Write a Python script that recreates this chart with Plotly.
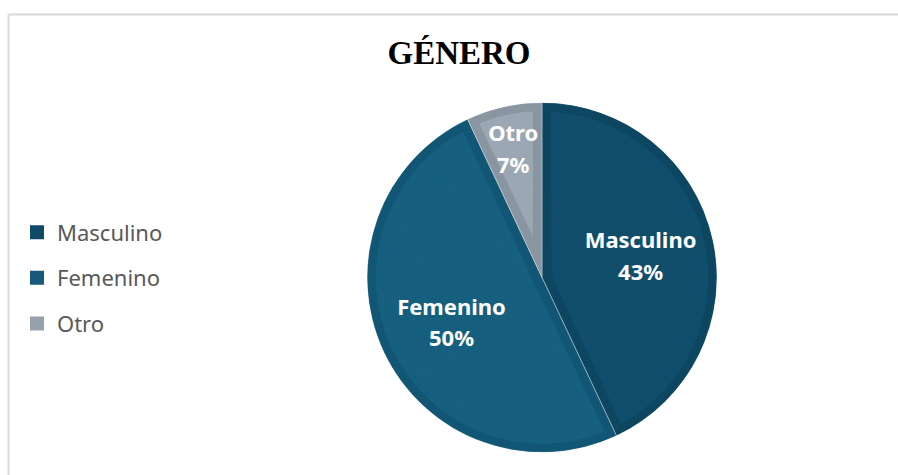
import math
import plotly.graph_objects as go

# ---- data ----
categories = ["Masculino", "Femenino", "Otro"]
values = [43, 50, 7]
percent_labels = ["43%", "50%", "7%"]
title_text = "GÉNERO"

# ---- style ----
fill_colors = ["#104e6b", "#165f7f", "#9ba7b3"]
band_colors = ["#0c4661", "#115674", "#8995a1"]
legend_colors = ["#0f4a66", "#16597a", "#96a1ad"]
label_r_px = [101, 100, 132]
label_dy_px = [3, 5, 3]

W, H = 898, 475
cx, cy, R = 542, 277.5, 175
band_px = 9

dom_x = [(cx - R) / W, (cx + R) / W]
dom_y = [(H - cy - R) / H, (H - cy + R) / H]

total = sum(values)
spans = [v / total * 360 for v in values]
starts = []
acc = 0
for s in spans:
    starts.append(acc)
    acc += s
mids = [st + sp / 2 for st, sp in zip(starts, spans)]

# label anchor positions (slice mid-angle, nudged in pixels)
lab_r, lab_t = [], []
for m, rp, dy in zip(mids, label_r_px, label_dy_px):
    a = math.radians(m)
    x = rp * math.sin(a)
    y = -rp * math.cos(a) + dy  # screen coords (down positive)
    lab_r.append(math.hypot(x, y) / R)
    lab_t.append(math.degrees(math.atan2(x, -y)) % 360)

fig = go.Figure()

# outer slices (band colour)
for i, cat in enumerate(categories):
    fig.add_trace(go.Barpolar(
        r=[1], theta=[mids[i]], width=[spans[i]], base=[0],
        name=cat, legendgroup=cat,
        marker=dict(color=band_colors[i], line=dict(color="rgba(255,255,255,0.5)", width=0.7)),
        hoverinfo="skip", showlegend=False,
    ))

# inner lighter region of each slice, inset by a constant band
N = 70
r_in = (R - band_px) / R
for i, cat in enumerate(categories):
    rs, ths, ws, bs = [], [], [], []
    for k in range(N):
        r0 = r_in * k / N
        r0_px = max(r0 * R, 1e-6)
        ratio = band_px / r0_px
        if ratio >= 1:
            continue
        inset = math.degrees(math.asin(ratio))
        w = spans[i] - 2 * inset
        if w <= 0:
            continue
        rs.append(r_in - r0)
        bs.append(r0)
        ths.append(mids[i])
        ws.append(w)
    fig.add_trace(go.Barpolar(
        r=rs, theta=ths, width=ws, base=bs,
        marker=dict(color=fill_colors[i], line=dict(width=0)),
        hoverinfo="skip", showlegend=False, legendgroup=cat,
    ))

# legend entries (square swatches)
for i, cat in enumerate(categories):
    fig.add_trace(go.Scatterpolar(
        r=[None], theta=[None], mode="markers", name=cat, legendgroup=cat,
        marker=dict(symbol="square", size=14, color=legend_colors[i]),
        hoverinfo="skip", showlegend=True,
    ))

# labels
label_font = dict(family="Noto Sans", size=22, color="white")
hidden_marker = dict(size=6, color="rgba(0,0,0,0)")
fig.add_trace(go.Scatterpolar(
    r=lab_r, theta=lab_t, mode="markers+text", marker=hidden_marker,
    text=["<b>%s</b>" % c for c in categories], textposition="top center",
    textfont=label_font, showlegend=False, hoverinfo="skip",
))
fig.add_trace(go.Scatterpolar(
    r=lab_r, theta=lab_t, mode="markers+text", marker=hidden_marker,
    text=["<b>%s</b>" % p for p in percent_labels], textposition="bottom center",
    textfont=label_font, showlegend=False, hoverinfo="skip",
))

fig.update_layout(
    width=W, height=H,
    margin=dict(l=0, r=0, t=0, b=0),
    paper_bgcolor="white",
    plot_bgcolor="white",
    polar=dict(
        domain=dict(x=dom_x, y=dom_y),
        bgcolor="rgba(0,0,0,0)",
        bargap=0,
        barmode="overlay",
        radialaxis=dict(visible=False, range=[0, 1]),
        angularaxis=dict(visible=False, rotation=90, direction="clockwise"),
    ),
    title=dict(
        text="<b>%s</b>" % title_text,
        x=459 / W, xanchor="center",
        y=1 - 52 / H, yanchor="middle",
        font=dict(family="Liberation Serif", size=33, color="black"),
    ),
    legend=dict(
        x=17 / W, xanchor="left",
        y=1 - 234 / H + 0.035 + 6 / H, yanchor="top",
        font=dict(family="Noto Sans", size=22, color="#595959"),
        traceorder="grouped",
        tracegroupgap=14,
        itemsizing="trace",
        bgcolor="rgba(0,0,0,0)",
    ),
    shapes=[
        dict(type="line", xref="paper", yref="paper",
             x0=8.5 / W, x1=1.01, y0=1 - 14.5 / H, y1=1 - 14.5 / H,
             line=dict(color="#d9d9d9", width=2)),
        dict(type="line", xref="paper", yref="paper",
             x0=8.5 / W, x1=8.5 / W, y0=1 - 14.5 / H, y1=-0.01,
             line=dict(color="#d9d9d9", width=2)),
    ],
)

fig.write_html("out.html", config={"displayModeBar": False},
               post_script="document.body.style.margin='0px';")
